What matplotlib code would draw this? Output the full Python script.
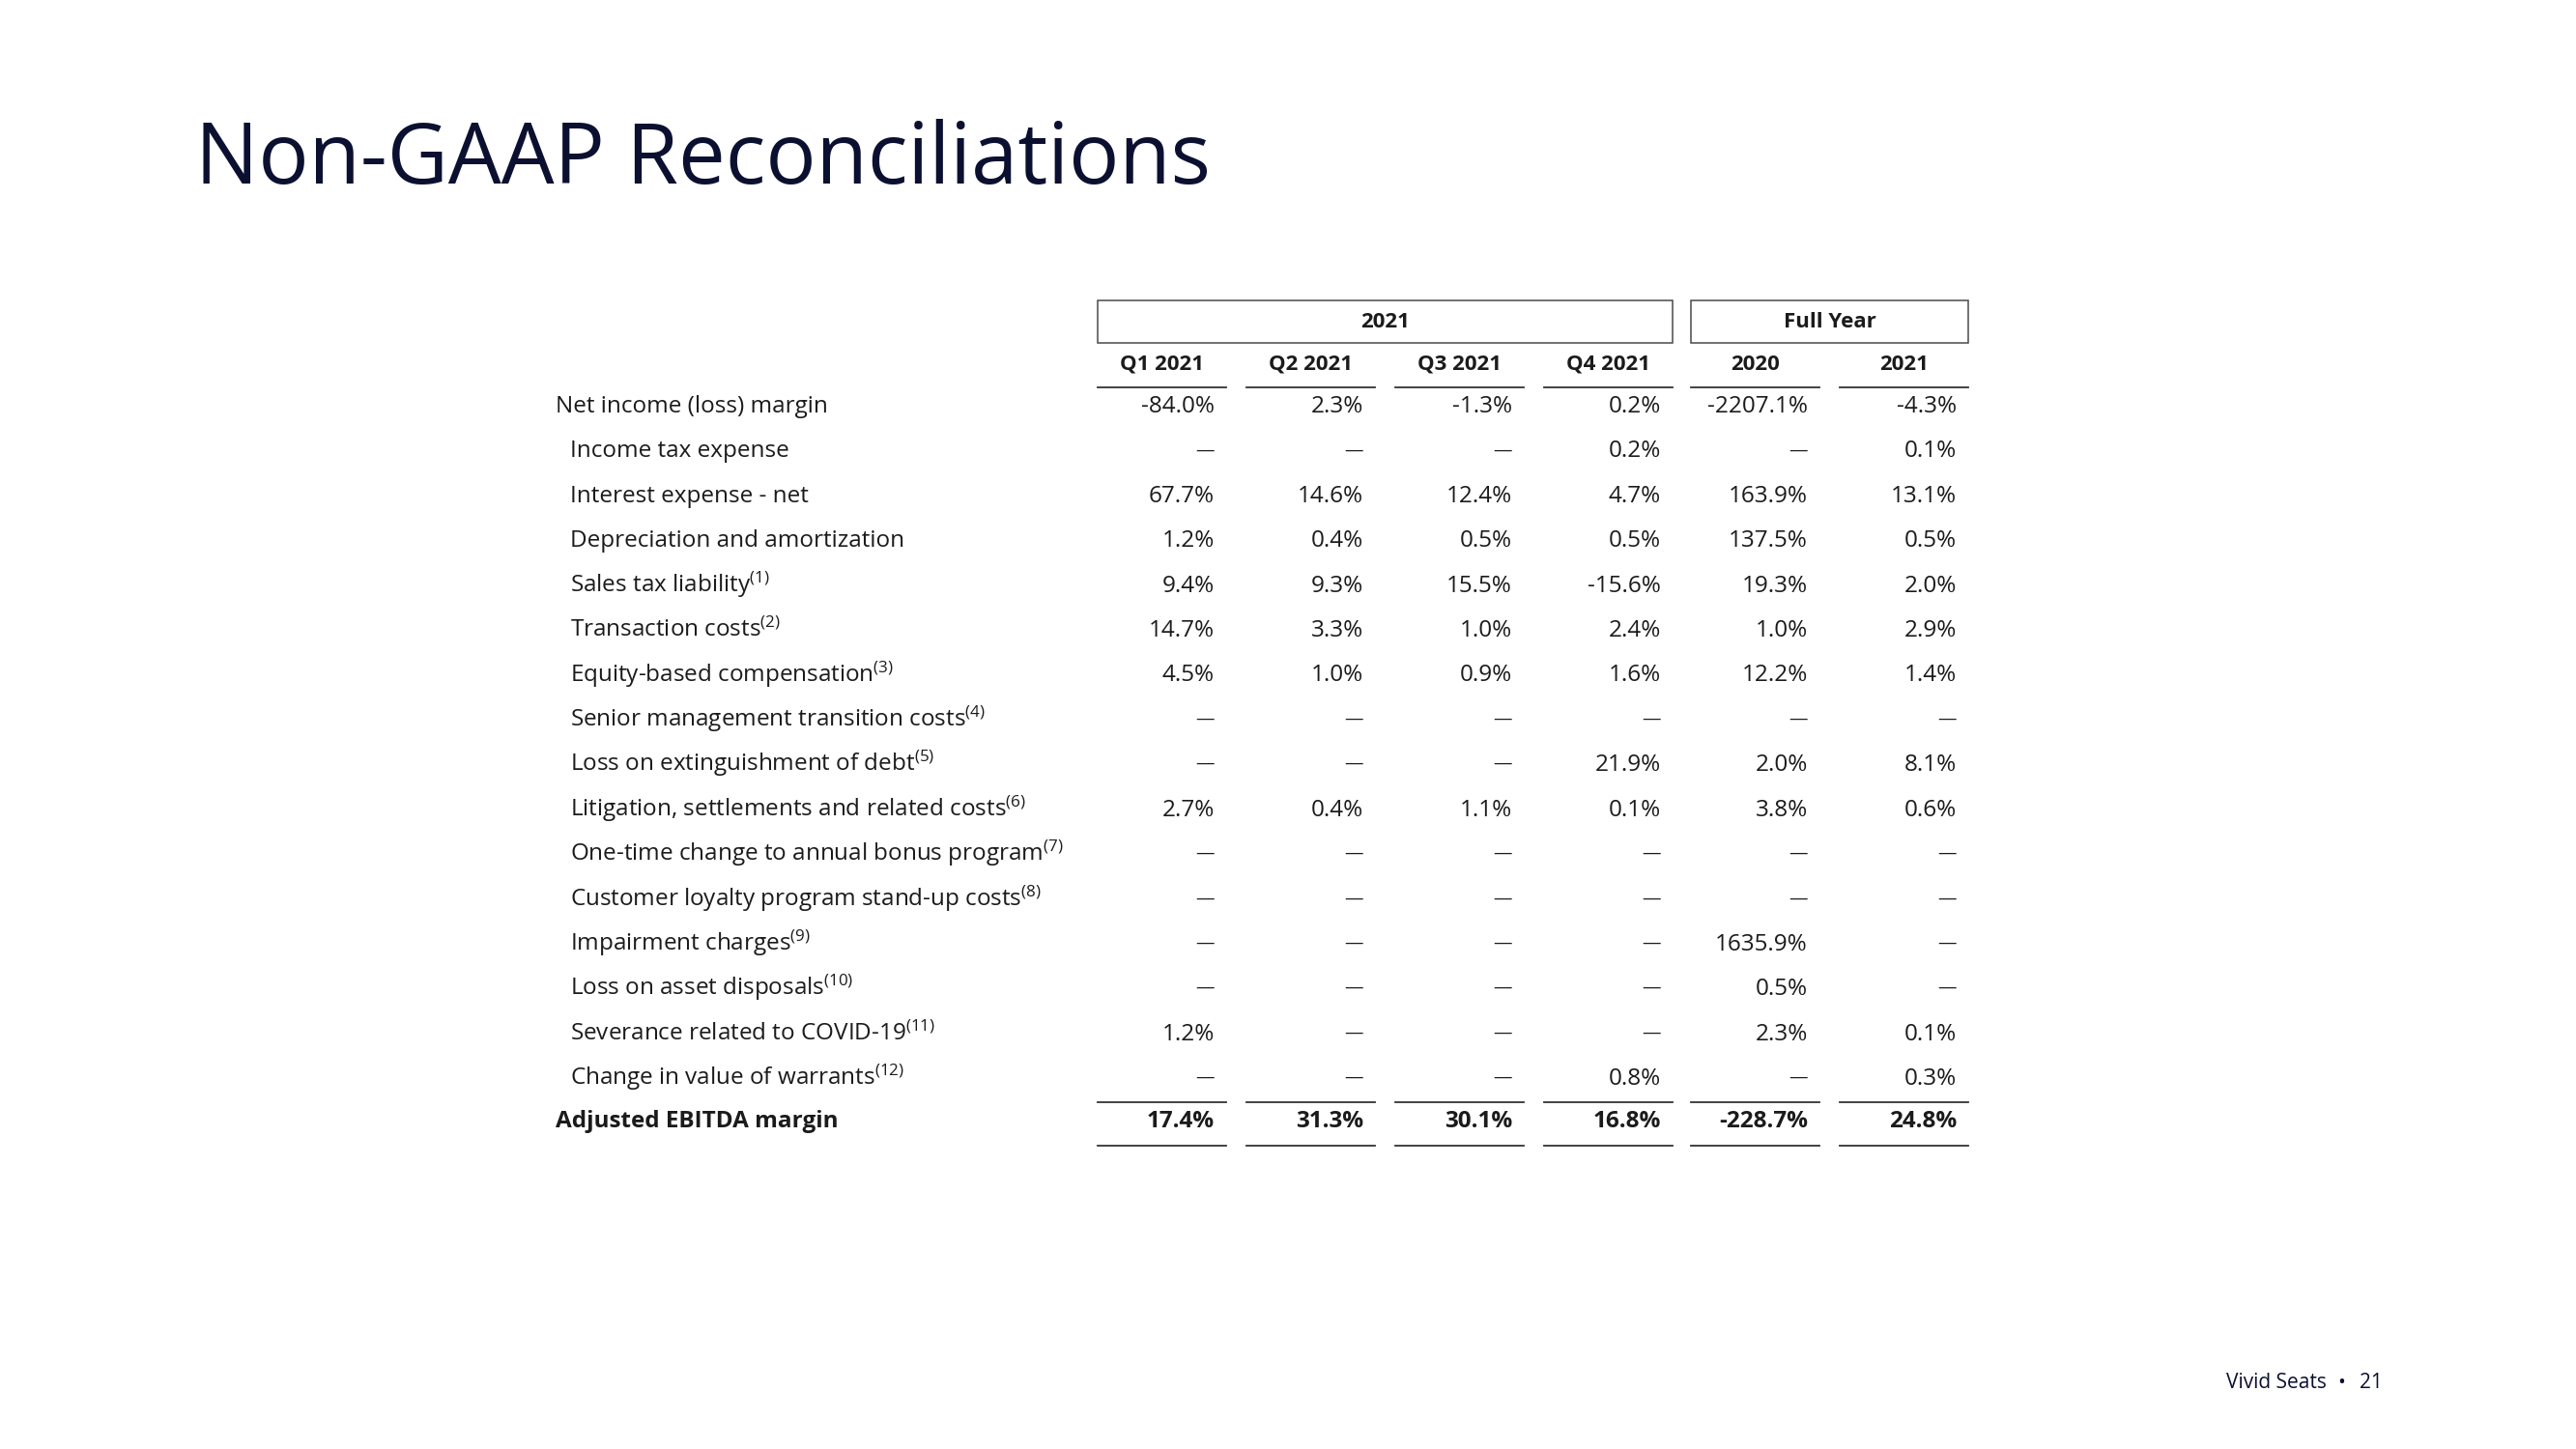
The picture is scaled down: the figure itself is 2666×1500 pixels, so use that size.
import matplotlib
matplotlib.use("Agg")
import matplotlib.pyplot as plt
from matplotlib.patches import Rectangle

plt.rcParams['font.family'] = ['Open Sans', 'DejaVu Sans']
plt.rcParams['mathtext.fontset'] = 'custom'
plt.rcParams['mathtext.rm'] = 'Open Sans'
plt.rcParams['mathtext.it'] = 'Open Sans:italic'
plt.rcParams['mathtext.bf'] = 'Open Sans:bold'

# Table data
row_labels = [
    "Net income (loss) margin", "Income tax expense", "Interest expense - net",
    "Depreciation and amortization", "Sales tax liability", "Transaction costs",
    "Equity-based compensation", "Senior management transition costs",
    "Loss on extinguishment of debt", "Litigation, settlements and related costs",
    "One-time change to annual bonus program", "Customer loyalty program stand-up costs",
    "Impairment charges", "Loss on asset disposals", "Severance related to COVID-19",
    "Change in value of warrants",
]
footnotes = [None, None, None, None, 1, 2, 3, 4, 5, 6, 7, 8, 9, 10, 11, 12]
col_labels = ["Q1 2021", "Q2 2021", "Q3 2021", "Q4 2021", "2020", "2021"]
group_labels = ["2021", "Full Year"]

q1_2021 = [-84.0, None, 67.7, 1.2, 9.4, 14.7, 4.5, None, None, 2.7, None, None, None, None, 1.2, None]
q2_2021 = [2.3, None, 14.6, 0.4, 9.3, 3.3, 1.0, None, None, 0.4, None, None, None, None, None, None]
q3_2021 = [-1.3, None, 12.4, 0.5, 15.5, 1.0, 0.9, None, None, 1.1, None, None, None, None, None, None]
q4_2021 = [0.2, 0.2, 4.7, 0.5, -15.6, 2.4, 1.6, None, 21.9, 0.1, None, None, None, None, None, 0.8]
fy_2020 = [-2207.1, None, 163.9, 137.5, 19.3, 1.0, 12.2, None, 2.0, 3.8, None, None, 1635.9, 0.5, 2.3, None]
fy_2021 = [-4.3, 0.1, 13.1, 0.5, 2.0, 2.9, 1.4, None, 8.1, 0.6, None, None, None, None, 0.1, 0.3]
columns = [q1_2021, q2_2021, q3_2021, q4_2021, fy_2020, fy_2021]

total_label = "Adjusted EBITDA margin"
adjusted_ebitda = [17.4, 31.3, 30.1, 16.8, -228.7, 24.8]


W, H = 2666, 1500
fig = plt.figure(figsize=(W / 100, H / 100), dpi=100)
ax = fig.add_axes([0, 0, 1, 1])
ax.set_xlim(0, W)
ax.set_ylim(H, 0)
ax.axis('off')

ink = '#1b1b1b'
navy = '#0c1030'

ax.text(202, 190, "Non-GAAP Reconciliations", fontsize=62.5, color=navy, va='baseline', ha='left')

# column geometry (pixel layout)
col_left = [1136, 1290, 1444, 1598, 1750, 1904]
col_width = 133
val_pad = 12
lw = 1.3
fs = 17.5

# group boxes
groups = [(0, 3), (4, 5)]
for (a, b), g in zip(groups, group_labels):
    x0, x1 = col_left[a], col_left[b] + col_width
    ax.add_patch(Rectangle((x0, 311), x1 - x0, 44, fill=False, edgecolor='#4a4a4a', linewidth=1.1))
    ax.text((x0 + x1) / 2, 339, g, fontsize=16, fontweight='bold', color=ink, ha='center', va='baseline')

for i, c in enumerate(col_labels):
    x0 = col_left[i]
    ax.text(x0 + col_width / 2, 383, c, fontsize=16, fontweight='bold', color=ink, ha='center', va='baseline')
    ax.plot([x0, x0 + col_width], [401, 401], color='#333333', lw=lw)
    ax.plot([x0, x0 + col_width], [1141, 1141], color='#333333', lw=lw)
    ax.plot([x0, x0 + col_width], [1186, 1186], color='#333333', lw=lw)


def cell(x, y, v, bold=False):
    if v is None:
        ax.text(x, y - 2, "\u2014", fontsize=14, color=ink, ha='right', va='baseline')
    else:
        ax.text(x, y, f"{v:.1f}%", fontsize=fs, color=ink, ha='right', va='baseline',
                fontweight='bold' if bold else 'normal')


row0, pitch = 427, 46.4
for r, (lab, fn) in enumerate(zip(row_labels, footnotes)):
    y = row0 + r * pitch
    x = 575 if r == 0 else 590
    txt = lab if fn is None else lab + r"$^{\mathrm{(" + str(fn) + ")}}$"
    ax.text(x, y, txt, fontsize=fs, color=ink, ha='left', va='baseline')
    for i, col in enumerate(columns):
        cell(col_left[i] + col_width - val_pad, y, col[r])

ty = 1167
ax.text(575, ty, total_label, fontsize=fs, fontweight='bold', color=ink, ha='left', va='baseline')
for i, v in enumerate(adjusted_ebitda):
    cell(col_left[i] + col_width - val_pad, ty, v, bold=True)

# footer
ax.text(2304, 1437, "Vivid Seats", fontsize=15, color=navy, ha='left', va='baseline')
ax.text(2423, 1437, "\u2022", fontsize=15, color=navy, ha='center', va='baseline')
ax.text(2466, 1437, "21", fontsize=15, color=navy, ha='right', va='baseline')

fig.savefig("out.png", dpi=100, facecolor='white')
